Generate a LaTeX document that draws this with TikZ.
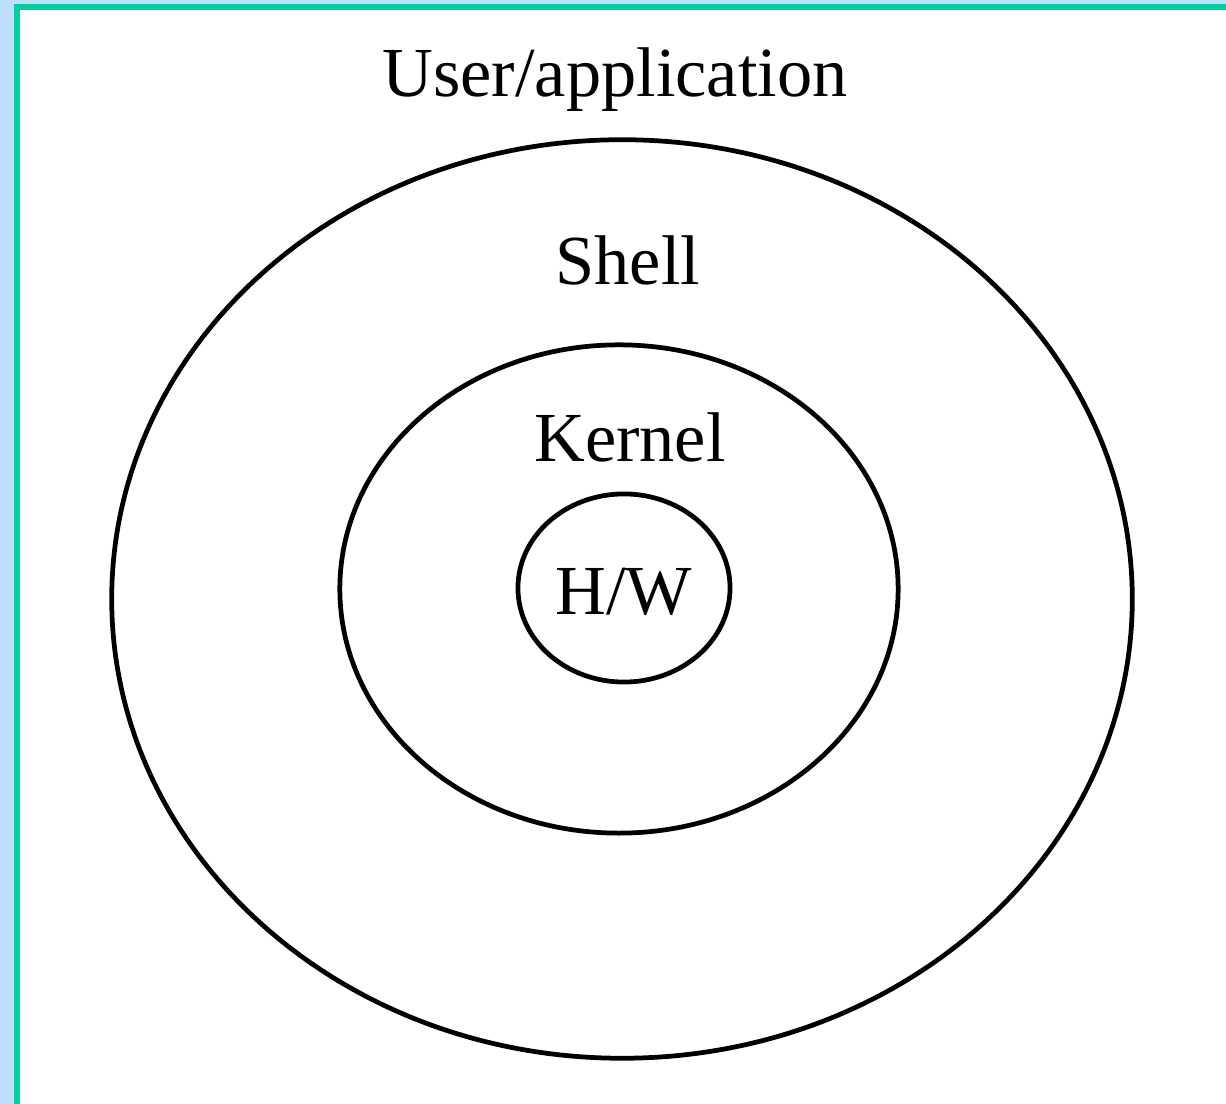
\documentclass[tikz,border=0pt]{standalone}
\usepackage{fontspec}
\setmainfont{Liberation Serif}
\usetikzlibrary{shapes.geometric, positioning}
\definecolor{frame}{RGB}{0,206,158}
\definecolor{sky}{RGB}{190,222,250}

\begin{document}
\begin{tikzpicture}[x=0.01cm, y=-0.01cm,
      ring/.style={draw, ellipse, line width=1.35pt, inner sep=0pt},
      lbl/.style={font=\fontsize{20}{24}\selectfont}
    ]
    \useasboundingbox (0,0) rectangle (1226,1104);
    % --- backdrop and frame ---
    \fill[sky] (0,0) rectangle (1226,1104);
    \fill[frame] (14,4) rectangle (1226,1104);
    \fill[white] (20,10) rectangle (1226,1104);

    % --- layers ---
    \node[ring, minimum width=10.2cm, minimum height=9.18cm] (user) at (622,599) {};
    \node[ring, minimum width=5.58cm, minimum height=4.88cm] (kern) at (619,589) {};
    \node[ring, minimum width=2.12cm, minimum height=1.88cm] (hw) at (624,588) {};

    % --- labels ---
    \node[lbl] (app)   at (615,80)  {User/application};
    \node[lbl] (shell) at (628,260) {Shell};
    \node[lbl] (kname) at (630,437) {Kernel};
    \node[lbl] (hname) at (624,592) {H/W};
\end{tikzpicture}
\end{document}
